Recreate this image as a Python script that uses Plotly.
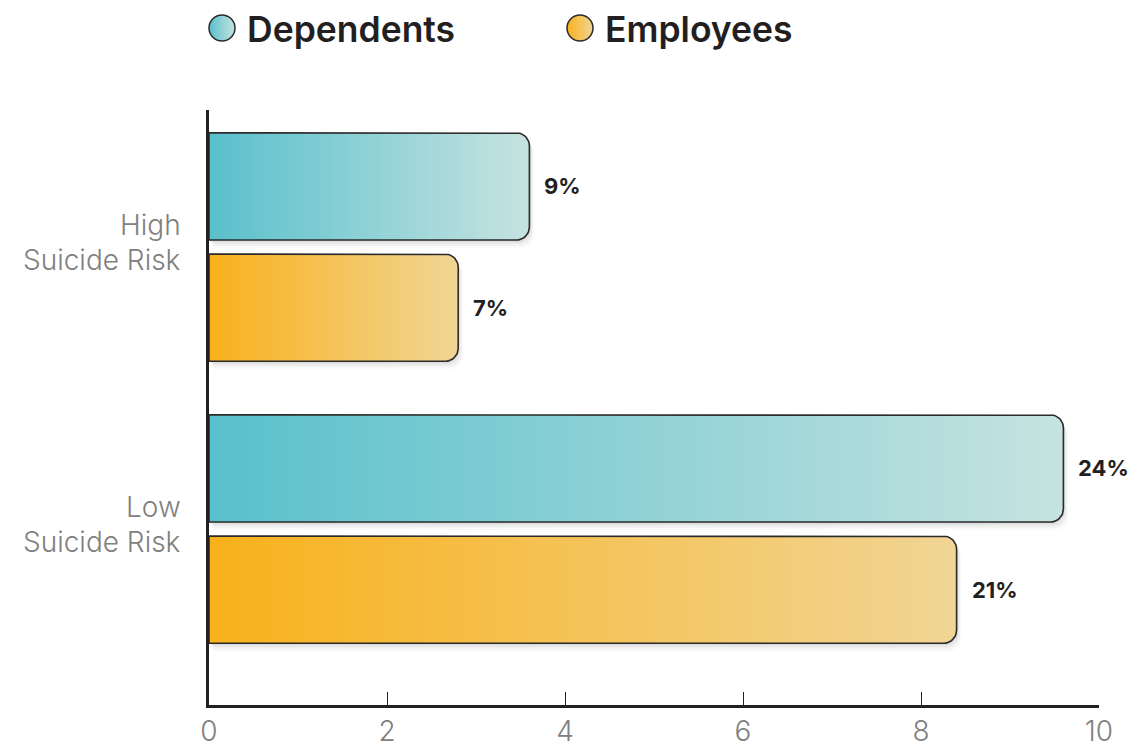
import numpy as np
import plotly.graph_objects as go

# ---------------- data ----------------
categories = ["High<br>Suicide Risk", "Low<br>Suicide Risk"]
series_names = ["Dependents", "Employees"]
dependents = [3.6, 9.6]
employees = [2.8, 8.4]
dependents_labels = ["9%", "24%"]
employees_labels = ["7%", "21%"]
x_ticks = [0, 2, 4, 6, 8, 10]

# ---------------- layout constants ----------------
W, H = 1136, 751
x0px, x1px = 209, 1099
y_top_px, y_bot_px = 110, 705
x_range = [0, 10]
y_range = [-0.624, 1.486]
px_x = (x1px - x0px) / (x_range[1] - x_range[0])
px_y = (y_bot_px - y_top_px) / (y_range[1] - y_range[0])
cat_pos = [1, 0]
offset = 0.215
half = 0.19
radius_px = 13

dep_scale = [[0, "#59c0cc"], [1, "#c6e3e0"]]
emp_scale = [[0, "#f8b11b"], [1, "#f1d595"]]
series = [
    (series_names[0], dependents, dependents_labels, +offset, dep_scale),
    (series_names[1], employees, employees_labels, -offset, emp_scale),
]

FONT = "Inter"


def bar_path(length, yc, dx_px=0.0, dy_px=0.0):
    rx = radius_px / px_x
    ry = radius_px / px_y
    ylo, yhi = yc - half, yc + half
    t = np.linspace(0, np.pi / 2, 14)
    cx = length - rx
    xs = [0.0]
    ys = [yhi]
    xs += list(cx + rx * np.sin(t))
    ys += list(yhi - ry + ry * np.cos(t))
    xs += list(cx + rx * np.cos(t))
    ys += list(ylo + ry - ry * np.sin(t))
    xs += [0.0, 0.0]
    ys += [ylo, yhi]
    xs = np.array(xs) + dx_px / px_x
    ys = np.array(ys) - dy_px / px_y
    return xs, ys


fig = go.Figure()

# soft shadows
for name, vals, labels, off, scale in series:
    for v, c in zip(vals, cat_pos):
        for d, a in [(2, 0.05), (4, 0.04), (6, 0.03), (8, 0.02)]:
            xs, ys = bar_path(v, c + off, dx_px=d * 0.6, dy_px=d)
            fig.add_trace(go.Scatter(
                x=xs, y=ys, mode="lines", fill="toself",
                fillcolor=f"rgba(0,0,0,{a})", line=dict(width=0),
                hoverinfo="skip", showlegend=False))

# bars
for name, vals, labels, off, scale in series:
    for v, c, lab in zip(vals, cat_pos, labels):
        xs, ys = bar_path(v, c + off)
        fig.add_trace(go.Scatter(
            x=xs, y=ys, mode="lines", fill="toself",
            fillgradient=dict(type="horizontal", colorscale=scale),
            line=dict(color="#2b2b2b", width=1.6),
            name=name, hoverinfo="skip", showlegend=False))
        fig.add_annotation(
            x=v, y=c + off, xref="x", yref="y", text=f"<b>{lab}</b>",
            showarrow=False, xanchor="left", yanchor="middle", xshift=13,
            font=dict(family=FONT, size=22, color="#231f20"))

# category labels (one annotation per text line)
line_shift = [22.5, -12.5]
for cat, c in zip(categories, cat_pos):
    for line, ys in zip(cat.split("<br>"), line_shift):
        fig.add_annotation(
            x=0, y=c, xref="x", yref="y", text=line, showarrow=False,
            xanchor="right", yanchor="middle", xshift=-26, yshift=ys,
            font=dict(family=FONT, size=28, color="#808080", weight=300))

# custom legend (markers on an overlay axis)
leg_x = [222, 580]
leg_text_x = [245, 603]
for (name, vals, labels, off, scale), lx, tx in zip(series, leg_x, leg_text_x):
    fig.add_trace(go.Scatter(
        x=[lx], y=[60 - 28], mode="markers", xaxis="x2", yaxis="y2",
        marker=dict(size=26, color=scale[0][1],
                    gradient=dict(type="horizontal", color=scale[1][1]),
                    line=dict(color="#2b2b2b", width=1.5)),
        hoverinfo="skip", showlegend=False))
    fig.add_annotation(
        x=tx / W, y=1 - 29 / H, xref="paper", yref="paper", text=name,
        showarrow=False, xanchor="left", yanchor="middle",
        font=dict(family=FONT, size=35.5, color="#231f20", weight=600))

fig.update_layout(
    autosize=True,
    margin=dict(l=0, r=0, t=0, b=0, autoexpand=False),
    paper_bgcolor="white", plot_bgcolor="white",
    showlegend=False,
    xaxis=dict(
        domain=[x0px / W, x1px / W], range=x_range, tickvals=x_ticks,
        showgrid=False, zeroline=False, showline=True, linecolor="#231f20",
        linewidth=2.5, ticks="inside", ticklen=13, tickwidth=1.2,
        tickcolor="#231f20", ticklabelstandoff=0, anchor="y",
        tickfont=dict(family=FONT, size=28, color="#808080", weight=300),
        fixedrange=True),
    yaxis=dict(
        domain=[1 - y_bot_px / H, 1 - y_top_px / H], range=y_range,
        tickvals=cat_pos, showticklabels=False, showgrid=False,
        zeroline=False, showline=True, linecolor="#231f20", linewidth=2.5,
        ticks="", anchor="x", fixedrange=True),
    xaxis2=dict(domain=[0, 1], range=[0, W], visible=False, anchor="y2",
                fixedrange=True),
    yaxis2=dict(domain=[1 - 60 / H, 1], range=[0, 60], visible=False,
                anchor="x2", fixedrange=True),
)

fig.write_html(
    "out.html",
    config={"displayModeBar": False},
    default_width=f"{W}px",
    default_height=f"{H}px; position:fixed; left:0; top:0; margin:0",
)
